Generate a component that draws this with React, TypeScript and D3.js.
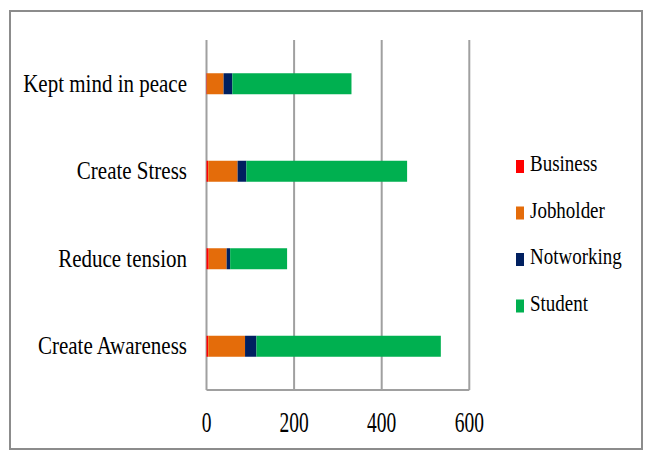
import React from "react";
import * as d3 from "d3";

const categories = ["Kept mind in peace", "Create Stress", "Reduce tension", "Create Awareness"];
const seriesNames = ["Business", "Jobholder", "Notworking", "Student"];
const business = [1, 4, 5, 4];
const jobholder = [38, 67, 41, 84];
const notworking = [20, 20, 8, 26];
const student = [272, 367, 130, 421];
const xTicks = [0, 200, 400, 600];
const colors = ["#ff0000", "#e46c0a", "#002060", "#00b050"];

export default function App() {
  const W = 645, H = 451;
  const plot = { left: 206.5, right: 469.3, top: 40, bottom: 390 };
  const x = d3.scaleLinear().domain([0, 600]).range([plot.left, plot.right]);
  const y = d3.scaleBand<string>().domain(categories).range([plot.top, plot.bottom]).paddingInner(0.76).paddingOuter(0.38);
  const rows = categories.map((c, i) => ({
    cat: c,
    Business: business[i],
    Jobholder: jobholder[i],
    Notworking: notworking[i],
    Student: student[i],
  }));
  const stack = d3.stack<any>().keys(seriesNames)(rows);
  const font = "'Liberation Serif', 'Times New Roman', serif";
  return (
    <svg width={W} height={H} style={{ position: "absolute", left: 0, top: 0, background: "#fff" }}>
      <rect x={10} y={11} width={632} height={438} fill="#fff" stroke="#8c8c8c" strokeWidth={2} />
      {xTicks.map((t) => (
        <line key={t} x1={x(t)} x2={x(t)} y1={plot.top} y2={plot.bottom} stroke="#a0a0a0" strokeWidth={2} />
      ))}
      <line x1={x(0)} x2={x(600)} y1={plot.bottom} y2={plot.bottom} stroke="#a0a0a0" strokeWidth={2} />
      {stack.map((s, si) =>
        s.map((d, i) => (
          <rect
            key={si + "-" + i}
            x={x(d[0])}
            y={y(categories[i])}
            width={x(d[1]) - x(d[0])}
            height={y.bandwidth()}
            fill={colors[si]}
          />
        ))
      )}
      {categories.map((c) => (
        <g key={c} transform={`translate(187, ${(y(c) as number) + y.bandwidth() / 2 + 8}) scale(1, 1.2)`}>
          <text x={0} y={0} textAnchor="end" fontFamily={font} fontSize={21} fill="#000">
            {c}
          </text>
        </g>
      ))}
      {xTicks.map((t) => (
        <g key={t} transform={`translate(${x(t)}, 432) scale(1, 1.5)`}>
          <text x={0} y={0} textAnchor="middle" fontFamily={font} fontSize={19.5} fill="#000">
            {t}
          </text>
        </g>
      ))}
      {seriesNames.map((n, i) => (
        <g key={n} transform={`translate(516, ${166.5 + i * 46.5})`}>
          <rect x={0} y={-6.5} width={8} height={13} fill={colors[i]} />
          <g transform="translate(14, 4.5) scale(1, 1.2)">
            <text x={0} y={0} fontFamily={font} fontSize={19} fill="#000">
              {n}
            </text>
          </g>
        </g>
      ))}
    </svg>
  );
}
